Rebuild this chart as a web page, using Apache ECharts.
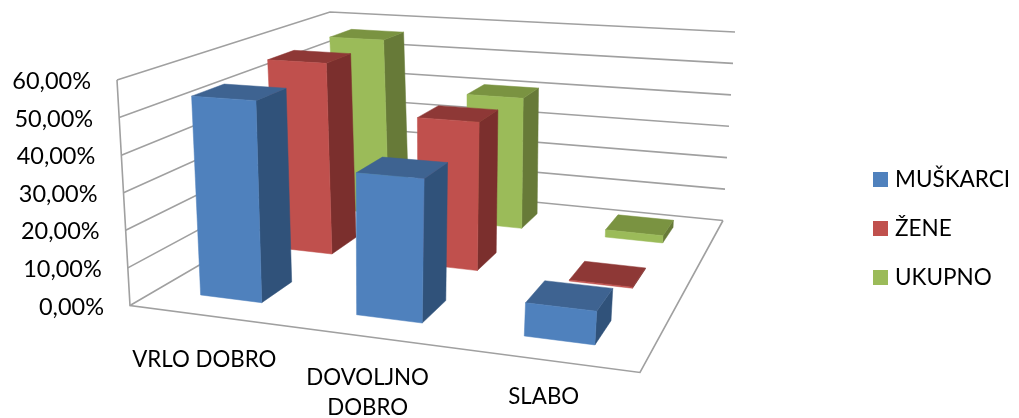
<!DOCTYPE html>
<html><head><meta charset="utf-8">
<style>html,body{margin:0;padding:0;background:#fff}#c{width:1019px;height:418px}</style>
<script src="https://cdn.jsdelivr.net/npm/echarts@6/dist/echarts.min.js"></script>
</head><body><div id="c"></div>
<script>
const categories = ['VRLO DOBRO', 'DOVOLJNO\nDOBRO', 'SLABO'];
const muskarci = [54, 37, 8.3];
const zene = [56.4, 42.3, 0.3];
const ukupno = [56.5, 40.7, 2.2];
const yTicks = [0, 10, 20, 30, 40, 50, 60];
const seriesNames = ['MUŠKARCI', 'ŽENE', 'UKUPNO'];

const FONT = 'Lato';
const colors = [
  {front:'#4F81BD', side:'#30527A', top:'#3E6391'},
  {front:'#C0504D', side:'#7B2F2D', top:'#8E3836'},
  {front:'#9BBB59', side:'#677A38', top:'#7A9341'}
];
const GRID = {left:130, top:80, width:510, height:225};
// scene frame: floor corners (front-left, front-right, back-right, back-left)
const floorQ = [[130,305.5],[640,372.5],[723,220.5],[340,183]];
// ceiling corners (front-left, back-right, back-left); same perspective divisor as the floor
const ceilQ  = [[117,80],[735,32],[330,12]];
function floorMap(q){
  const [x0,y0]=q[0],[x1,y1]=q[1],[x2,y2]=q[2],[x3,y3]=q[3];
  const dx1=x1-x2,dx2=x3-x2,sx=x0-x1+x2-x3,dy1=y1-y2,dy2=y3-y2,sy=y0-y1+y2-y3;
  const det=dx1*dy2-dx2*dy1;
  const g=(sx*dy2-dx2*sy)/det,h=(dx1*sy-sx*dy1)/det;
  const a=x1-x0+g*x1,b=x3-x0+h*x3,d=y1-y0+g*y1,e=y3-y0+h*y3;
  return {g,h,f:(u,w)=>{const n=g*u+h*w+1;return [(a*u+b*w+x0)/n,(d*u+e*w+y0)/n];}};
}
function ceilMap(q,g,h){
  const [x0,y0]=q[0],[x2,y2]=q[1],[x3,y3]=q[2];
  const b=x3*(1+h)-x0,e=y3*(1+h)-y0;
  const a=x2*(1+g+h)-b-x0,d=y2*(1+g+h)-e-y0;
  return (u,w)=>{const n=g*u+h*w+1;return [(a*u+b*w+x0)/n,(d*u+e*w+y0)/n];};
}
const F=floorMap(floorQ),Hf=F.f,Hc=ceilMap(ceilQ,F.g,F.h);
function project(u,w,t){
  const p=Hf(u,w),q=Hc(u,w);
  return [p[0]+(q[0]-p[0])*t,p[1]+(q[1]-p[1])*t];
}
const toU=(api,i)=>(api.coord([i,0])[0]-GRID.left)/GRID.width;
const toT=(api,v)=>(GRID.top+GRID.height-api.coord([0,v])[1])/GRID.height;
const LINE={stroke:'#A0A0A0',lineWidth:1.6,fill:null};
const poly=(pts,fill)=>({type:'polygon',shape:{points:pts},style:{fill,stroke:fill,lineWidth:0.5}});
const rows=3, barFrac=1/2.5, barShiftU=-0.0035;

function barSeries(name,values,j){
  return {
    name,type:'custom',coordinateSystem:'cartesian2d',z:10-j,silent:true,
    itemStyle:{color:colors[j].front},
    data:values.map((v,i)=>[categories[i],v]),
    renderItem(p,api){
      const uc=toU(api,api.value(0))+barShiftU, t=toT(api,api.value(1));
      const du=api.size([1,0])[0]/GRID.width*barFrac/2, dw=(1/rows)*barFrac/2, wc=(j+.5)/rows;
      const P=(a,b,h)=>project(uc+a*du,wc+b*dw,h);
      const c=colors[j];
      return {type:'group',children:[
        poly([P(1,-1,0),P(1,1,0),P(1,1,t),P(1,-1,t)],c.side),
        poly([P(-1,-1,t),P(1,-1,t),P(1,1,t),P(-1,1,t)],c.top),
        poly([P(-1,-1,0),P(1,-1,0),P(1,-1,t),P(-1,-1,t)],c.front)
      ]};
    }
  };
}
const option={
  animation:false,backgroundColor:'#fff',
  grid:{left:GRID.left,top:GRID.top,width:GRID.width,height:GRID.height,containLabel:false},
  xAxis:{type:'category',data:categories,show:false},
  yAxis:{type:'value',min:0,max:60,interval:10,show:false},
  legend:{left:873,top:168,padding:0,orient:'vertical',itemWidth:15,itemHeight:15,itemGap:26,
    icon:'rect',data:seriesNames,selectedMode:false,
    textStyle:{fontFamily:FONT,fontSize:22.5,lineHeight:15,color:'#000',padding:[0,0,0,2]},itemStyle:{borderWidth:0}},
  series:[
    {type:'custom',name:'frame',silent:true,z:1,data:[0],
     renderItem(p,api){
       return {type:'group',children:[
         {type:'polyline',shape:{points:[project(0,0,1),project(0,0,0),project(1,0,0),project(1,1,0)]},style:LINE}
       ]};
     }},
    {type:'custom',name:'grid',silent:true,z:2,data:yTicks.map(v=>[0,v]),
     renderItem(p,api){
       const t=toT(api,api.value(1));
       const a=project(0,0,t);
       return {type:'group',children:[
         {type:'polyline',shape:{points:[a,project(0,1,t),project(1,1,t)]},style:LINE},
         {type:'text',style:{text:api.value(1).toFixed(2).replace('.',',')+'%',x:a[0]-26,y:a[1]+1.5,
           align:'right',verticalAlign:'middle',fill:'#000',font:'23.5px '+FONT}}
       ]};
     }},
    {type:'custom',name:'catLabels',silent:true,z:3,data:categories.map((c,i)=>[c,0]),
     renderItem(p,api){
       const i=p.dataIndex,a=project(toU(api,i),0,0);
       return {type:'text',style:{text:categories[i],x:a[0]-3,y:a[1]+(i===0?29:i===1?26:22),
         align:'center',verticalAlign:'top',lineHeight:30,fill:'#000',font:'22.3px '+FONT}};
     }},
    ...[muskarci,zene,ukupno].map((v,j)=>barSeries(seriesNames[j],v,j))
  ]
};
echarts.init(document.getElementById('c'),null,{renderer:'canvas'}).setOption(option);
</script></body></html>
